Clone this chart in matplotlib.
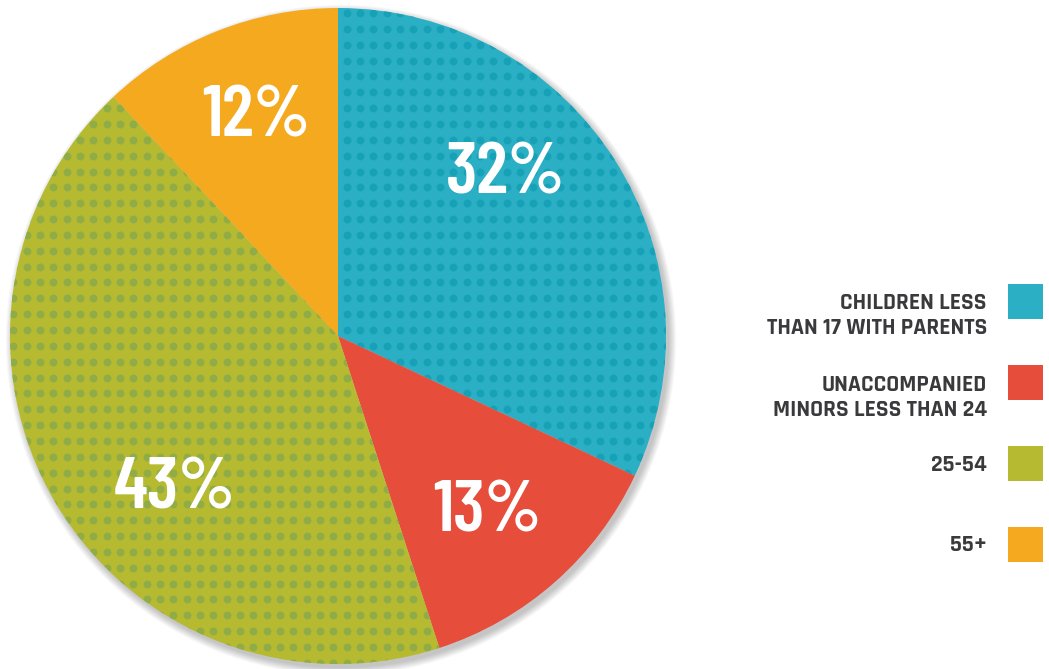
import matplotlib

matplotlib.use("Agg")
import matplotlib.pyplot as plt
import numpy as np
from matplotlib.patches import Circle, Rectangle

# ------------------------------------------------------------------ #
# Data
# ------------------------------------------------------------------ #
shares = [32, 13, 43, 12]
pct_labels = ["32%", "13%", "43%", "12%"]
legend_labels = [
    "CHILDREN LESS\nTHAN 17 WITH PARENTS",
    "UNACCOMPANIED\nMINORS LESS THAN 24",
    "25-54",
    "55+",
]
colors = ["#2BAFC5", "#E64D3A", "#B6BA30", "#F5A91F"]
dot_colors = ["#17A1B7", None, "#8FAC47", None]

# ------------------------------------------------------------------ #
# Figure in pixel units
# ------------------------------------------------------------------ #
W, H = 1049, 669
fig = plt.figure(figsize=(W / 100, H / 100), dpi=100)
ax = fig.add_axes([0, 0, 1, 1])

cx, cy, R = 338, 333, 328

# soft drop shadow
for i in range(10):
    ax.add_patch(Circle((cx + 3, cy - 4), R + i * 0.8, color="black",
                        alpha=0.025, lw=0, zorder=0))

wedges, _ = ax.pie(shares, colors=colors, startangle=90, counterclock=False,
                   center=(cx, cy), radius=R,
                   wedgeprops={"linewidth": 0, "zorder": 1})

# dotted texture, clipped to each wedge
gx = np.arange(cx + 8.7 - 13.33 * 30, cx + R + 14, 13.33)
gy = np.arange(H - 13 - 15.85 * 45, H, 15.85)
GX, GY = np.meshgrid(gx, gy)
for wedge, dc in zip(wedges, dot_colors):
    if dc is None:
        continue
    sc = ax.scatter(GX.ravel(), GY.ravel(), s=32, c=dc, lw=0, zorder=2)
    sc.set_clip_path(wedge)

# percentage labels
pct_font = ["Barlow Condensed", "DejaVu Sans"]
label_pos = [(506, 175), (487, 513), (175, 490), (256, 118)]
for txt, (px, py) in zip(pct_labels, label_pos):
    ax.text(px, H - py, txt, ha="center", va="center", color="white",
            fontsize=53, fontweight="semibold", family=pct_font, zorder=5)

# legend (text to the left, swatch to the right)
leg_font = ["Rajdhani", "Lato", "DejaVu Sans"]
sq_top = [284, 365, 446, 527]
text_base = [309, 391, 471, 551]
for lab, col, top, base in zip(legend_labels, colors, sq_top, text_base):
    ax.add_patch(Rectangle((1008, H - top - 35), 35, 35, color=col, lw=0))
    lines = lab.split("\n")
    for j, line in enumerate(lines):
        ax.text(987, H - base - j * 25, line, ha="right", va="baseline",
                color="#3A3A3C", fontsize=17, fontweight="bold", family=leg_font)

ax.set_xlim(0, W)
ax.set_ylim(0, H)
ax.set_aspect("equal")
ax.axis("off")

fig.savefig("out.png", dpi=100)
